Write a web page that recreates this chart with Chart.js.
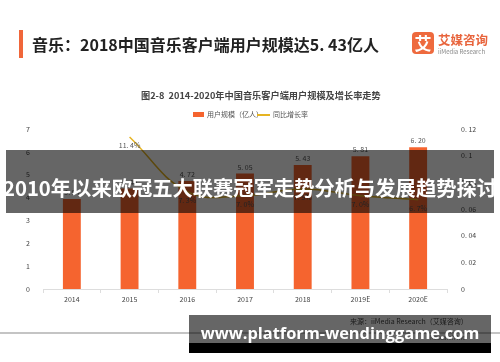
<!DOCTYPE html>
<html>
<head>
<meta charset="utf-8">
<script src="https://cdn.jsdelivr.net/npm/chart.js@4/dist/chart.umd.min.js"></script>
<style>
    body { margin: 0; background: #fff; font-family: "Noto Sans CJK SC", "Noto Sans", sans-serif; }
    #wrap { position: absolute; left: 0; top: 0; width: 500px; height: 362px; overflow: hidden; }
    #chartBox { position: absolute; left: 0; top: 0; width: 500px; height: 362px; }
    .abs { position: absolute; white-space: nowrap; }
</style>
</head>
<body>
<div id="wrap">
    <div id="chartBox"><canvas id="musicChart"></canvas></div>

    <div class="abs" style="left:19px;top:30px;width:4px;height:28px;background:#f0663a;"></div>
    <div class="abs" style="left:32px;top:33px;font-size:16px;line-height:22px;font-weight:700;color:#222;">音乐：2018中国音乐客户端用户规模达5. 43亿人</div>

    <div class="abs" style="left:412px;top:32px;width:22px;height:22px;border-radius:4px;background:#ee6a3e;color:#fff;font-size:17px;line-height:22px;text-align:center;font-weight:700;">艾</div>
    <div class="abs" style="left:438px;top:32px;font-size:12.5px;line-height:16px;font-weight:700;color:#e8643c;">艾媒咨询</div>
    <div class="abs" style="left:438px;top:48px;font-size:6px;line-height:8px;color:#888;">iiMedia Research</div>

    <div class="abs" style="left:141px;top:89px;font-size:9.2px;line-height:12px;font-weight:700;color:#444;">图2-8&nbsp;&nbsp;2014-2020年中国音乐客户端用户规模及增长率走势</div>

    <div class="abs" style="left:193px;top:112px;width:11px;height:5px;background:#f5642f;"></div>
    <div class="abs" style="left:207px;top:109px;font-size:7px;line-height:10px;color:#555;">用户规模（亿人）</div>
    <div class="abs" style="left:257px;top:114px;width:13px;height:1.5px;background:#e6b422;"></div>
    <div class="abs" style="left:273px;top:109px;font-size:7px;line-height:10px;color:#555;">同比增长率</div>

    <div class="abs" style="left:0;top:332px;width:500px;height:2px;background:#c4c4c4;"></div>
    <div class="abs" style="left:350px;top:316px;font-size:7px;line-height:10px;color:#444;">来源：iiMedia Research（艾媒咨询）</div>
    <div class="abs" style="left:430px;top:334px;font-size:6px;line-height:8px;color:#777;">Research Inc</div>

    <!-- overlays -->
    <div class="abs" style="left:6px;top:150px;width:488px;height:63px;background:rgba(0,0,0,0.6);"></div>
    <div class="abs" style="left:0;top:170px;width:500px;text-align:center;font-size:20.3px;line-height:34px;font-weight:700;color:#fff;">2010年以来欧冠五大联赛冠军走势分析与发展趋势探讨</div>

    <div class="abs" style="left:189px;top:315px;width:302px;height:28px;background:rgba(0,0,0,0.6);"></div>
    <div class="abs" style="left:189px;top:343px;width:302px;height:10px;background:#000;"></div>
    <div class="abs" style="left:195px;top:321px;width:290px;text-align:center;font-family:'Open Sans',sans-serif;font-size:16.4px;line-height:24px;font-weight:700;color:#fff;">www.platform-wendinggame.com</div>
</div>

<script>
const years = ["2014", "2015", "2016", "2017", "2018", "2019E", "2020E"];
const userScale = [3.94, 4.40, 4.72, 5.05, 5.43, 5.81, 6.20];
const growthRate = [null, 0.114, 0.073, 0.070, 0.075, 0.070, 0.067];
const leftTicks = [0, 1, 2, 3, 4, 5, 6, 7];
const rightTicks = [0, 0.02, 0.04, 0.06, 0.08, 0.1, 0.12];

function spaced(str) {
    return str.replace('.', '. ');
}

// labels over bars and under line points
const valueLabels = {
    id: 'valueLabels',
    afterDatasetsDraw(chart) {
        const ctx = chart.ctx;
        ctx.save();
        ctx.font = '7px "Noto Sans CJK SC", sans-serif';
        ctx.fillStyle = '#555';
        ctx.textAlign = 'center';

        const bars = chart.getDatasetMeta(0).data;
        bars.forEach((bar, i) => {
            ctx.textBaseline = 'bottom';
            ctx.fillText(spaced(userScale[i].toFixed(2)), bar.x, bar.y - 3);
        });

        const pts = chart.getDatasetMeta(1).data;
        pts.forEach((pt, i) => {
            if (growthRate[i] === null) return;
            ctx.textBaseline = 'top';
            ctx.fillText(spaced((growthRate[i] * 100).toFixed(1)) + '%', pt.x, pt.y + 5);
        });
        ctx.restore();
    }
};

const tickFont = { family: '"Noto Sans CJK SC", sans-serif', size: 7 };

const chartConfig = {
    data: {
        labels: years,
        datasets: [
            {
                type: 'bar',
                label: '用户规模（亿人）',
                data: userScale,
                backgroundColor: '#f5642f',
                barPercentage: 0.31,
                categoryPercentage: 1,
                yAxisID: 'y',
                order: 2
            },
            {
                type: 'line',
                label: '同比增长率',
                data: growthRate,
                borderColor: '#e6b422',
                borderWidth: 1.5,
                pointRadius: 0,
                tension: 0.4,
                fill: false,
                yAxisID: 'y1',
                order: 1
            }
        ]
    },
    options: {
        responsive: true,
        maintainAspectRatio: false,
        animation: false,
        layout: {
            padding: { top: 129, left: 0, right: 0, bottom: 0 }
        },
        plugins: {
            legend: { display: false },
            tooltip: { enabled: false }
        },
        scales: {
            x: {
                offset: true,
                grid: {
                    display: true,
                    drawOnChartArea: false,
                    drawTicks: true,
                    tickLength: 4,
                    offset: true,
                    color: '#dddddd'
                },
                border: { display: true, color: '#dddddd' },
                ticks: { font: tickFont, color: '#444', padding: 2, maxRotation: 0 },
                afterFit(scale) { scale.height = 73; }
            },
            y: {
                position: 'left',
                min: 0,
                max: 7,
                grid: { display: false },
                border: { display: false },
                afterBuildTicks(scale) { scale.ticks = leftTicks.map(v => ({ value: v })); },
                ticks: { font: tickFont, color: '#444', padding: 5 },
                afterFit(scale) { scale.width = 43; }
            },
            y1: {
                position: 'right',
                min: 0,
                max: 0.12,
                grid: { display: false },
                border: { display: false },
                afterBuildTicks(scale) { scale.ticks = rightTicks.map(v => ({ value: v })); },
                ticks: {
                    font: tickFont,
                    color: '#444',
                    padding: 6,
                    callback: v => spaced(String(v))
                },
                afterFit(scale) { scale.width = 53; }
            }
        }
    },
    plugins: [valueLabels]
};

const ctx = document.getElementById('musicChart').getContext('2d');
const musicChart = new Chart(ctx, chartConfig);
</script>
</body>
</html>
